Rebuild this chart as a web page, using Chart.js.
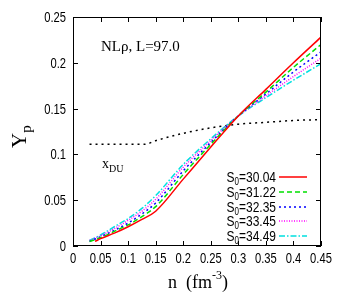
<!DOCTYPE html>
<html>
<head>
<meta charset="utf-8">
<script src="https://cdn.jsdelivr.net/npm/chart.js@4"></script>
<style>
  html, body { margin: 0; padding: 0; background: #fff; }
  #wrap { width: 338px; height: 305px; }
</style>
</head>
<body>
<div id="wrap"><canvas id="chart" width="338" height="305"></canvas></div>
<script>
// densities (fm^-3)
const nRed = [0.04, 0.05, 0.075, 0.1, 0.125, 0.15, 0.2, 0.25, 0.3, 0.35, 0.4, 0.45];
const nOther = [0.03, 0.05, 0.075, 0.1, 0.125, 0.15, 0.2, 0.25, 0.3, 0.35, 0.4, 0.45];
const nDU = [0.03, 0.05, 0.1, 0.13, 0.15, 0.2, 0.25, 0.3, 0.35, 0.4, 0.45];

// proton fractions for each S0
const s0Labels = ["30.04", "31.22", "32.35", "33.45", "34.49"];
const yp3004 = [0.005, 0.008, 0.014, 0.021, 0.029, 0.038, 0.073, 0.108, 0.142, 0.171, 0.200, 0.228];
const yp3122 = [0.005, 0.009, 0.016, 0.023, 0.032, 0.043, 0.078, 0.111, 0.142, 0.168, 0.195, 0.220];
const yp3235 = [0.005, 0.010, 0.017, 0.025, 0.035, 0.047, 0.082, 0.113, 0.142, 0.166, 0.190, 0.212];
const yp3345 = [0.006, 0.011, 0.019, 0.028, 0.038, 0.051, 0.086, 0.115, 0.142, 0.164, 0.185, 0.205];
const yp3449 = [0.006, 0.012, 0.021, 0.030, 0.041, 0.055, 0.089, 0.117, 0.142, 0.162, 0.181, 0.199];
const xDU = [0.111, 0.111, 0.111, 0.111, 0.115, 0.123, 0.129, 0.133, 0.135, 0.137, 0.138];

const xTicks = [0, 0.05, 0.1, 0.15, 0.2, 0.25, 0.3, 0.35, 0.4, 0.45];
const yTicks = [0, 0.05, 0.1, 0.15, 0.2, 0.25];

const colors = ["#ff0000", "#00e000", "#0000ff", "#ff00ff", "#00e0e0"];
const dashes = [[], [5, 3], [2, 3], [1, 1.5], [6, 2, 1.5, 2]];
const series = [yp3004, yp3122, yp3235, yp3345, yp3449];

function pts(xs, ys) { return xs.map((x, i) => ({ x: x, y: ys[i] })); }
function fmt(v) { return String(parseFloat(v.toFixed(2))); }

const datasets = series.map((ys, i) => ({
  label: "S0=" + s0Labels[i],
  data: pts(i === 0 ? nRed : nOther, ys),
  borderColor: colors[i],
  borderWidth: 1.5,
  borderDash: dashes[i],
  pointRadius: 0,
  cubicInterpolationMode: "monotone",
  fill: false
}));
datasets.push({
  label: "xDU",
  data: pts(nDU, xDU),
  borderColor: "#000",
  borderWidth: 1.5,
  borderDash: [2, 4],
  pointRadius: 0,
  cubicInterpolationMode: "monotone",
  fill: false
});

const sans = "'Liberation Sans', Arial, sans-serif";
const serif = "'Liberation Serif', 'Times New Roman', serif";
const squeeze = 0.8; // narrow helvetica look

// draw text squeezed horizontally, anchored at x by align
function narrowText(ctx, txt, x, y, align) {
  const w = ctx.measureText(txt).width * squeeze;
  let x0 = x;
  if (align === "right") x0 = x - w;
  else if (align === "center") x0 = x - w / 2;
  ctx.save();
  ctx.translate(x0, y);
  ctx.scale(squeeze, 1);
  ctx.textAlign = "left";
  ctx.fillText(txt, 0, 0);
  ctx.restore();
  return w;
}

// frame, inward ticks, labels and legend
const decor = {
  id: "decor",
  afterDraw(chart) {
    const ctx = chart.ctx;
    const a = chart.chartArea;
    const xs = chart.scales.x, ys = chart.scales.y;
    ctx.save();
    ctx.strokeStyle = "#000";
    ctx.lineWidth = 1;
    ctx.strokeRect(a.left + 0.5, a.top + 0.5, a.right - a.left - 1, a.bottom - a.top - 1);
    ctx.beginPath();
    xTicks.forEach(v => {
      const px = Math.round(xs.getPixelForValue(v)) + 0.5;
      ctx.moveTo(px, a.bottom); ctx.lineTo(px, a.bottom - 5);
      ctx.moveTo(px, a.top); ctx.lineTo(px, a.top + 5);
    });
    yTicks.forEach(v => {
      const py = Math.round(ys.getPixelForValue(v)) + 0.5;
      ctx.moveTo(a.left, py); ctx.lineTo(a.left + 5, py);
      ctx.moveTo(a.right, py); ctx.lineTo(a.right - 5, py);
    });
    ctx.stroke();

    // tick labels
    ctx.fillStyle = "#000";
    ctx.textBaseline = "alphabetic";
    ctx.font = "14px " + sans;
    xTicks.forEach(v => {
      narrowText(ctx, fmt(v), xs.getPixelForValue(v), a.bottom + 17, "center");
    });
    yTicks.forEach(v => {
      narrowText(ctx, fmt(v), a.left - 7, ys.getPixelForValue(v) + 5, "right");
    });

    // annotation texts
    ctx.textAlign = "left";
    ctx.font = "15px " + serif;
    ctx.fillText("NL\u03c1, L=97.0", 101, 51);
    ctx.font = "14px " + serif;
    ctx.fillText("x", 102, 168);
    ctx.font = "10px " + serif;
    ctx.fillText("DU", 109, 172);

    // axis titles
    const tx = 168;
    ctx.font = "18px " + serif;
    ctx.fillText("n  (fm", tx, 288);
    let w = ctx.measureText("n  (fm").width;
    ctx.font = "12px " + serif;
    ctx.fillText("-3", tx + w, 279);
    let w2 = ctx.measureText("-3").width;
    ctx.font = "18px " + serif;
    ctx.fillText(")", tx + w + w2, 288);

    ctx.save();
    ctx.translate(26, 148);
    ctx.rotate(-Math.PI / 2);
    ctx.font = "21px " + serif;
    ctx.fillText("Y", 0, 0);
    const wy = ctx.measureText("Y").width;
    ctx.font = "15px " + serif;
    ctx.fillText("p", wy, 5);
    ctx.restore();

    // legend
    const rowY = [177, 192, 207, 221, 236];
    datasets.slice(0, 5).forEach((d, i) => {
      const y = rowY[i];
      ctx.fillStyle = "#000";
      ctx.font = "15px " + sans;
      const rw = narrowText(ctx, "=" + s0Labels[i], 276, y + 5, "right");
      ctx.font = "10px " + sans;
      const zw = narrowText(ctx, "0", 276 - rw, y + 8, "right");
      ctx.font = "15px " + sans;
      narrowText(ctx, "S", 276 - rw - zw, y + 5, "right");
      ctx.strokeStyle = d.borderColor;
      ctx.lineWidth = 1.5;
      ctx.setLineDash(d.borderDash);
      ctx.beginPath();
      ctx.moveTo(279, y); ctx.lineTo(307, y);
      ctx.stroke();
      ctx.setLineDash([]);
    });
    ctx.restore();
  }
};

new Chart(document.getElementById("chart"), {
  type: "line",
  data: { datasets: datasets },
  options: {
    responsive: false,
    animation: false,
    layout: { padding: { top: 17, right: 17, left: 0, bottom: 0 } },
    plugins: { legend: { display: false }, tooltip: { enabled: false } },
    scales: {
      x: {
        type: "linear", min: 0, max: 0.45,
        afterBuildTicks: s => { s.ticks = xTicks.map(v => ({ value: v })); },
        afterFit: s => { s.height = 59; },
        grid: { display: false }, border: { display: false },
        ticks: { display: false }
      },
      y: {
        type: "linear", min: 0, max: 0.25,
        afterBuildTicks: s => { s.ticks = yTicks.map(v => ({ value: v })); },
        afterFit: s => { s.width = 73; },
        grid: { display: false }, border: { display: false },
        ticks: { display: false }
      }
    }
  },
  plugins: [decor]
});
</script>
</body>
</html>
